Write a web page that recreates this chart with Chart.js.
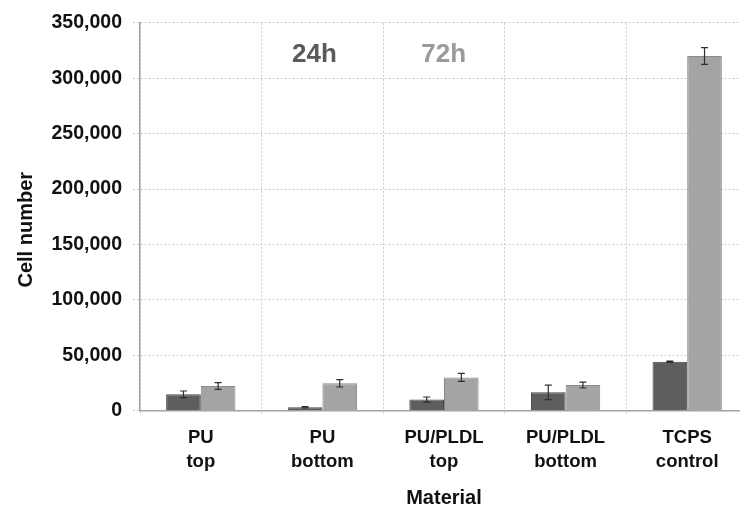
<!DOCTYPE html>
<html>
<head>
<meta charset="utf-8">
<script src="https://cdn.jsdelivr.net/npm/chart.js@4/dist/chart.umd.min.js"></script>
<style>
  html, body { margin: 0; padding: 0; background: #fff; overflow: hidden; }
  #wrap { position: relative; width: 750px; height: 508px; }
</style>
</head>
<body>
<div id="wrap"><canvas id="chart"></canvas></div>
<script>
// Materials (two-line category labels)
const categories = [
  ['PU', 'top'],
  ['PU', 'bottom'],
  ['PU/PLDL', 'top'],
  ['PU/PLDL', 'bottom'],
  ['TCPS', 'control']
];

// Mean cell number after 24 h and 72 h, with error (±)
const cells24h  = [14800, 3100, 10100, 16600, 44200];
const err24h    = [3000, 600, 2300, 6600, 600];
const cells72h  = [22300, 24700, 30100, 23200, 320000];
const err72h    = [3000, 3300, 3600, 2700, 7500];

// Y axis range
const yMin = 0;
const yMax = 350000;
const yStep = 50000;

// In-plot series captions: [text, category position, value position, colour]
const captions = [
  ['24h', 0.935, 321000, '#5a5a5a'],
  ['72h', 1.998, 321000, '#9b9b9b']
];

const yTitle = 'Cell number';

const FONT = '"Liberation Sans", Arial, Helvetica, sans-serif';
const GRID = '#c9c9c9';
const AXIS = '#a3a3a3';

const errorBars = {
  id: 'errorBars',
  afterDatasetsDraw(chart) {
    const ctx = chart.ctx;
    const y = chart.scales.y;
    ctx.save();
    ctx.strokeStyle = '#2e2e2e';
    ctx.lineWidth = 1.2;
    chart.data.datasets.forEach((ds, i) => {
      const meta = chart.getDatasetMeta(i);
      meta.data.forEach((bar, j) => {
        const v = ds.data[j], e = ds.errors[j];
        const yt = y.getPixelForValue(v + e);
        const yb = y.getPixelForValue(v - e);
        const cx = bar.x, cap = 3.5;
        ctx.beginPath();
        ctx.moveTo(cx, yt); ctx.lineTo(cx, yb);
        ctx.moveTo(cx - cap, yt); ctx.lineTo(cx + cap, yt);
        ctx.moveTo(cx - cap, yb); ctx.lineTo(cx + cap, yb);
        ctx.stroke();
      });
    });
    ctx.restore();
  }
};

const captionPlugin = {
  id: 'captions',
  afterDatasetsDraw(chart) {
    const ctx = chart.ctx;
    const xs = chart.scales.x, ys = chart.scales.y;
    ctx.save();
    ctx.font = 'bold 26px ' + FONT;
    ctx.textAlign = 'center';
    ctx.textBaseline = 'middle';
    captions.forEach(([text, cx, cy, color]) => {
      ctx.fillStyle = color;
      ctx.fillText(text, xs.getPixelForValue(cx), ys.getPixelForValue(cy));
    });
    // rotated y-axis title, sitting a little below the axis middle
    const ya = chart.scales.y;
    ctx.translate(ya.left + 12, (ya.top + ya.bottom) / 2 + 13);
    ctx.rotate(-Math.PI / 2);
    ctx.font = 'bold 20px ' + FONT;
    ctx.fillStyle = '#111';
    ctx.fillText(yTitle, 0, 0);
    ctx.restore();
  }
};

new Chart(document.getElementById('chart'), {
  type: 'bar',
  data: {
    labels: categories,
    datasets: [
      {
        label: '24h',
        data: cells24h,
        errors: err24h,
        backgroundColor: '#5e5e5e',
        borderColor: '#454545',
        borderWidth: 1,
        categoryPercentage: 0.57,
        barPercentage: 1.0
      },
      {
        label: '72h',
        data: cells72h,
        errors: err72h,
        backgroundColor: '#a4a4a4',
        borderColor: '#8a8a8a',
        borderWidth: 1,
        categoryPercentage: 0.57,
        barPercentage: 1.0
      }
    ]
  },
  options: {
    responsive: true,
    maintainAspectRatio: false,
    animation: false,
    layout: { padding: { top: 22, left: 14, right: 2, bottom: 0 } },
    plugins: {
      legend: { display: false },
      tooltip: { enabled: false }
    },
    scales: {
      x: {
        offset: true,
        grid: {
          offset: true,
          color: GRID,
          lineWidth: 1,
          tickLength: 5,
          tickColor: GRID,
          tickBorderDash: [2, 2]
        },
        border: { color: AXIS, width: 1.5, dash: [2, 2] },
        ticks: {
          color: '#111',
          padding: 11,
          maxRotation: 0,
          autoSkip: false,
          font: { family: FONT, size: 18.5, weight: 'bold', lineHeight: 1.25 }
        },
        title: {
          display: true,
          text: 'Material',
          color: '#111',
          padding: { top: 4, bottom: 0 },
          font: { family: FONT, size: 20, weight: 'bold', lineHeight: 1 }
        }
      },
      y: {
        min: yMin,
        max: yMax,
        afterFit(scale) { scale.width = 126; },
        grid: {
          color: GRID,
          lineWidth: 1,
          tickLength: 7,
          tickColor: GRID,
          tickBorderDash: [2, 2]
        },
        border: { color: AXIS, width: 1.5, dash: [2, 2] },
        ticks: {
          stepSize: yStep,
          color: '#111',
          padding: 11,
          font: { family: FONT, size: 19.5, weight: 'bold' },
          callback: v => v.toLocaleString('en-US')
        },
        title: { display: false }
      }
    }
  },
  plugins: [errorBars, captionPlugin]
});
</script>
</body>
</html>
